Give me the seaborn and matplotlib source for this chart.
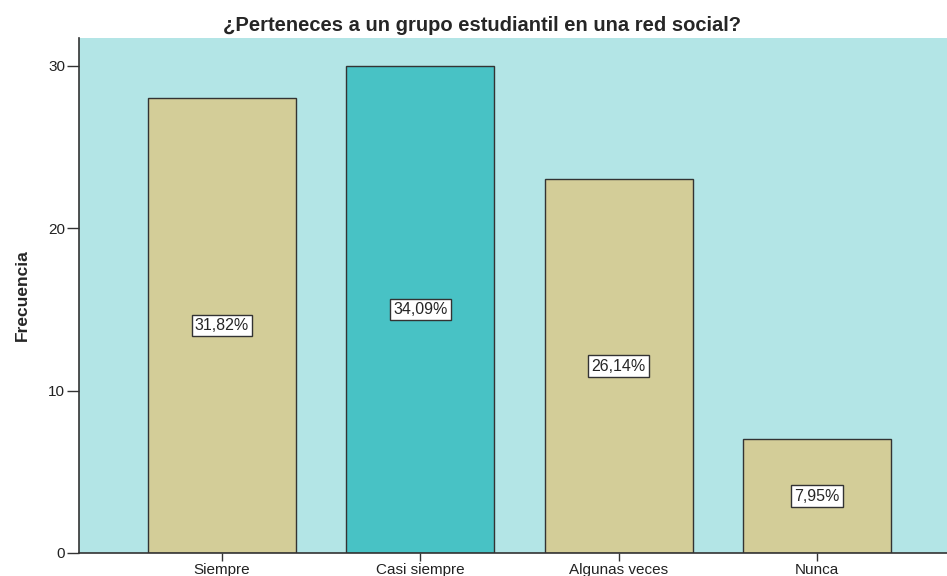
import pandas as pd
import matplotlib.pyplot as plt
import seaborn as sns

# Data
categorias = ["Siempre", "Casi siempre", "Algunas veces", "Nunca"]
frecuencia = [28, 30, 23, 7]
porcentajes = ["31,82%", "34,09%", "26,14%", "7,95%"]
colores = ["#d3cd98", "#48c2c5", "#d3cd98", "#d3cd98"]

df = pd.DataFrame({"categoria": categorias, "frecuencia": frecuencia})

sns.set_style("white")
plt.rcParams["font.family"] = ["Liberation Sans", "DejaVu Sans"]

fig = plt.figure(figsize=(9.47, 5.76), dpi=100)
ax = fig.add_axes([0.0834, 0.040, 0.9166, 0.894])

sns.barplot(data=df, x="categoria", y="frecuencia", hue="categoria",
            palette=colores, saturation=1, width=0.745, edgecolor="#333333",
            linewidth=1.0, legend=False, ax=ax)

ax.set_facecolor("#b3e5e6")
ax.set_xlim(-0.72, 3.655)
ax.set_ylim(0, 31.7)
ax.set_yticks([0, 10, 20, 30])
ax.tick_params(axis="both", width=1, color="#333333", labelcolor="#222222",
               labelsize=11, pad=1, direction="out", bottom=True, left=True)
ax.tick_params(axis="y", length=9)
ax.tick_params(axis="x", length=6)
for s in ["top", "right"]:
    ax.spines[s].set_visible(False)
for s in ["left", "bottom"]:
    ax.spines[s].set_color("#333333")
    ax.spines[s].set_linewidth(1.2)

# percent labels in middle of bars
for i, (v, p) in enumerate(zip(frecuencia, porcentajes)):
    ax.text(i, v / 2, p, ha="center", va="center", fontsize=11.5,
            bbox=dict(boxstyle="square,pad=0.2", fc="white", ec="#333333", lw=1))

ax.set_xlabel("")
ax.set_ylabel("Frecuencia", fontsize=12.5, fontweight="bold")
ax.yaxis.set_label_coords(-0.056, 0.5)
fig.text(0.509, 0.947, "¿Perteneces a un grupo estudiantil en una red social?",
         fontsize=14.5, fontweight="bold", ha="center", va="baseline")

plt.savefig("out.png", dpi=100)
plt.close()
